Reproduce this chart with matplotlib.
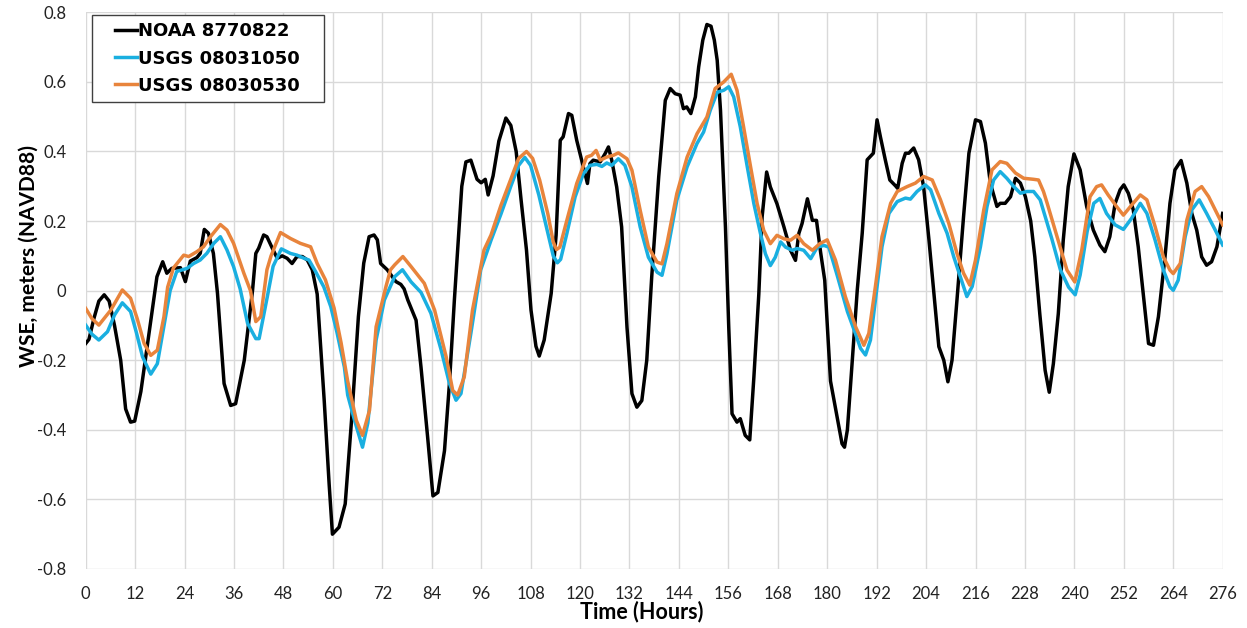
import matplotlib
matplotlib.use("Agg")
import matplotlib.pyplot as plt
from matplotlib.patches import Rectangle

plt.rcParams['font.family'] = ['Lato', 'DejaVu Sans']
plt.rcParams['axes.unicode_minus'] = False

# NOAA 8770822 water surface elevation (m, NAVD88)
noaa_hours = [0, 0.8, 2, 3.2, 4.5, 5.7, 7, 8.5, 9.7, 10.9, 11.9, 13.4, 15.4, 17.3, 18.7, 19.7, 20.9, 23, 24.2,
              25.4, 27, 27.8, 28.8, 29.8, 31, 32, 33.6, 35.2, 36.4, 38.5, 40.5, 41.3, 42, 43.2, 44, 45.3, 46.5,
              47.7, 48.9, 50.1, 51.3, 52.6, 53.8, 55, 56.2, 57.9, 59.1, 59.9, 61.5, 63, 64.6, 66.2, 67.5, 68.8,
              70, 70.8, 71.6, 73.2, 75.3, 76.5, 77.3, 78.2, 80.2, 81.4, 83, 84.3, 85.5, 87.1, 88.3, 89.5, 90.3,
              91.3, 92.3, 93.5, 95, 96, 97, 97.7, 98.9, 100.3, 102, 103.2, 104.5, 105.7, 107, 108.1, 109.3,
              110.1, 111.3, 113, 114.2, 115.2, 115.9, 117.2, 118, 119.2, 120.8, 121.8, 122.4, 123.2, 124.9,
              126.1, 126.9, 127.7, 128.9, 130.1, 131.4, 132.6, 133.8, 135, 136.2, 137.4, 139.1, 140.7, 141.9,
              143.1, 144.3, 145.1, 145.9, 146.9, 148, 148.8, 149.8, 150.8, 151.8, 152.6, 153.3, 154.1, 155.3,
              156.1, 156.9, 158.1, 158.9, 160.1, 161.2, 162.2, 163.4, 164.2, 165.3, 166.2, 167.8, 169.5,
              171.1, 172.3, 173.1, 173.9, 175.2, 176.4, 177.4, 178.4, 179.4, 180.8, 182.4, 183.6, 184.2,
              184.9, 186.1, 187.3, 188.5, 189.7, 191.2, 192.1, 192.9, 194.1, 195.2, 196.6, 197.1, 198.2, 199,
              199.8, 201, 202.2, 203.4, 204.7, 205.9, 207.1, 208.3, 209.3, 210.3, 211.5, 213.1, 214.4, 216,
              217.2, 218.4, 219.6, 221.2, 222, 223.2, 224.5, 225.7, 226.9, 228.1, 229.4, 230.4, 231.6, 232.9,
              233.9, 234.9, 236.1, 237.3, 238.5, 239.9, 241.4, 243, 244.6, 246.2, 247.4, 248.6, 249.9, 251.1,
              252, 253.1, 254.3, 255.5, 256.7, 258, 259.2, 260.4, 262, 263.2, 264.4, 265.9, 267.3, 268.5,
              269.7, 270.9, 272.1, 273.3, 274.6, 276]
noaa_wse = [-0.152, -0.14, -0.08, -0.03, -0.012, -0.03, -0.1, -0.2, -0.34, -0.378, -0.375, -0.29, -0.12, 0.04,
            0.083, 0.05, 0.064, 0.066, 0.026, 0.085, 0.095, 0.107, 0.176, 0.165, 0.107, -0.008, -0.267, -0.33,
            -0.325, -0.2, 0.0, 0.107, 0.122, 0.16, 0.155, 0.122, 0.093, 0.1, 0.093, 0.078, 0.098, 0.098, 0.088,
            0.06, -0.01, -0.315, -0.556, -0.7, -0.68, -0.613, -0.363, -0.075, 0.079, 0.155, 0.16, 0.146, 0.078,
            0.06, 0.026, 0.018, 0.005, -0.027, -0.085, -0.22, -0.42, -0.59, -0.58, -0.46, -0.267, -0.027, 0.117,
            0.3, 0.37, 0.375, 0.32, 0.31, 0.32, 0.275, 0.33, 0.43, 0.496, 0.475, 0.4, 0.26, 0.117, -0.056, -0.16,
            -0.188, -0.142, -0.008, 0.16, 0.432, 0.442, 0.509, 0.504, 0.432, 0.355, 0.308, 0.365, 0.375, 0.37,
            0.394, 0.413, 0.375, 0.298, 0.183, -0.105, -0.296, -0.335, -0.316, -0.2, 0.039, 0.327, 0.547, 0.581,
            0.566, 0.562, 0.523, 0.528, 0.509, 0.557, 0.643, 0.72, 0.765, 0.76, 0.72, 0.662, 0.518, 0.183,
            -0.105, -0.354, -0.378, -0.368, -0.416, -0.429, -0.249, -0.01, 0.212, 0.341, 0.298, 0.25, 0.183,
            0.116, 0.087, 0.164, 0.193, 0.264, 0.202, 0.202, 0.11, 0.03, -0.26, -0.363, -0.44, -0.45, -0.4,
            -0.2, 0.002, 0.165, 0.376, 0.395, 0.491, 0.443, 0.376, 0.318, 0.301, 0.294, 0.366, 0.395, 0.395,
            0.41, 0.376, 0.299, 0.146, -0.008, -0.161, -0.2, -0.262, -0.2, -0.027, 0.213, 0.395, 0.491, 0.486,
            0.424, 0.309, 0.242, 0.251, 0.251, 0.27, 0.323, 0.309, 0.27, 0.2, 0.097, -0.066, -0.229, -0.292,
            -0.21, -0.066, 0.145, 0.299, 0.393, 0.347, 0.241, 0.174, 0.131, 0.112, 0.155, 0.251, 0.29, 0.304,
            0.28, 0.232, 0.126, -0.008, -0.152, -0.157, -0.075, 0.097, 0.251, 0.347, 0.374, 0.309, 0.222,
            0.174, 0.097, 0.073, 0.083, 0.126, 0.222]

# USGS 08031050
usgs1_hours = [0, 1.5, 3.2, 5.3, 7, 8.9, 10.9, 12.3, 13.8, 15.8, 17.4, 19.4, 20.5, 22.1, 24.6, 26.2, 27.8, 29.4,
               31.1, 32.7, 34.3, 35.9, 37.5, 39.3, 41.3, 42.1, 44.1, 45.5, 47.5, 49.7, 51.3, 53, 54.2, 55.8,
               57.8, 59.5, 61, 62.8, 63.6, 65.2, 67.2, 68.5, 70.5, 72.5, 75, 76.9, 79, 81.4, 83.8, 86.3, 88.3,
               89.9, 91.1, 93.5, 95.9, 98.4, 100.8, 103.2, 105.1, 106.6, 108, 110, 112, 113.5, 114.5, 115.3,
               116.8, 118.8, 120.8, 122.4, 124.1, 125.3, 126.5, 127.7, 129.3, 130.9, 132.6, 134.6, 136.6, 138.7,
               139.9, 141.1, 143.5, 146, 148.4, 150, 151.6, 153.3, 154.9, 156.1, 157.3, 158.9, 160.6, 162.2,
               163.8, 165, 166.2, 167.4, 168.7, 169.9, 171.5, 172.7, 174.3, 176, 177.6, 179.2, 180.4, 182.4,
               184.9, 186.9, 188.1, 189.3, 190.5, 192.1, 193.3, 195, 197, 199, 200.2, 201.8, 203.8, 205.1,
               207.1, 209.1, 210.7, 212.3, 213.9, 215.2, 217.2, 218.8, 220.4, 222, 223.6, 225.3, 226.9, 228.5,
               230.1, 231.7, 234.5, 236.6, 238.6, 240.2, 241.4, 243.1, 244.7, 246.2, 247.8, 249.9, 251.9,
               253.9, 256, 257.6, 259.6, 261.6, 263.2, 264, 265.2, 266.9, 268.5, 270.3, 272.1, 274.2, 276]
usgs1_wse = [-0.099, -0.125, -0.142, -0.118, -0.07, -0.035, -0.06, -0.12, -0.19, -0.24, -0.21, -0.075, 0.0,
             0.055, 0.064, 0.078, 0.088, 0.107, 0.136, 0.155, 0.117, 0.069, 0.005, -0.094, -0.138, -0.138,
             -0.017, 0.07, 0.12, 0.107, 0.102, 0.093, 0.088, 0.055, 0.011, -0.046, -0.12, -0.22, -0.3, -0.37,
             -0.45, -0.38, -0.142, -0.027, 0.04, 0.06, 0.025, -0.005, -0.065, -0.171, -0.267, -0.315, -0.296,
             -0.123, 0.06, 0.145, 0.22, 0.3, 0.36, 0.383, 0.36, 0.275, 0.175, 0.1, 0.08, 0.09, 0.164, 0.269,
             0.336, 0.36, 0.363, 0.357, 0.367, 0.36, 0.379, 0.36, 0.298, 0.183, 0.096, 0.053, 0.044, 0.106,
             0.26, 0.356, 0.423, 0.456, 0.518, 0.57, 0.576, 0.586, 0.557, 0.471, 0.356, 0.25, 0.164, 0.106,
             0.072, 0.096, 0.14, 0.125, 0.116, 0.121, 0.116, 0.092, 0.125, 0.13, 0.125, 0.045, -0.06, -0.125,
             -0.166, -0.185, -0.142, 0.012, 0.126, 0.222, 0.256, 0.266, 0.263, 0.285, 0.304, 0.29, 0.222,
             0.165, 0.098, 0.04, -0.017, 0.012, 0.126, 0.242, 0.318, 0.342, 0.323, 0.299, 0.28, 0.285, 0.285,
             0.261, 0.15, 0.06, 0.01, -0.012, 0.045, 0.17, 0.251, 0.265, 0.222, 0.189, 0.176, 0.208, 0.251,
             0.222, 0.145, 0.059, 0.011, 0.001, 0.03, 0.155, 0.232, 0.261, 0.222, 0.174, 0.131]

# USGS 08030530
usgs2_hours = [0, 1.5, 3.2, 6.1, 8.9, 10.9, 12.5, 14.2, 15.8, 17.4, 19, 19.9, 21.3, 23.8, 25, 27, 28.6, 30.3,
               32.7, 34.3, 35.9, 38.4, 40, 41.3, 42.5, 44, 45, 47.3, 49.7, 52.1, 54.6, 56.2, 58.2, 60.3, 62,
               63.6, 65.7, 67.2, 68.9, 70.5, 72.9, 74, 75, 77, 79, 82.2, 84.7, 87.5, 89.1, 90.3, 91.9, 93.9,
               96.7, 98.4, 100.8, 103.2, 105.1, 107, 108.5, 110.2, 112.2, 113.5, 114.3, 115.1, 116.8, 119.2,
               121.6, 122.8, 123.9, 124.9, 126.5, 128.1, 129.3, 131.4, 132.6, 134.6, 136.6, 138.7, 139.9, 141.1,
               143.5, 146, 148.4, 150.8, 152.8, 154.9, 156.7, 158.1, 159.7, 161.4, 163, 164.6, 166.2, 167.8,
               169.5, 171.1, 172.7, 174.3, 176.4, 178.2, 180, 182, 184.4, 186.9, 188.9, 190.1, 191.7, 193.3,
               195.4, 197, 199.4, 201.4, 203.4, 205.5, 207.5, 209.5, 211.5, 213.1, 214.6, 216, 218, 220, 222,
               223.6, 225.7, 227.7, 230.1, 231.3, 232.5, 233.4, 235.8, 238.2, 240.1, 241.8, 243.8, 245.4,
               246.6, 248.2, 250.3, 251.9, 253.9, 256, 257.6, 259.6, 261.6, 263.2, 264, 265.7, 267.3, 269.3,
               270.9, 272.6, 274.2, 276]
usgs2_wse = [-0.051, -0.08, -0.099, -0.056, 0.002, -0.022, -0.08, -0.152, -0.186, -0.171, -0.075, 0.01, 0.065,
             0.102, 0.098, 0.112, 0.126, 0.155, 0.19, 0.174, 0.136, 0.05, 0.0, -0.089, -0.075, 0.06, 0.1, 0.167,
             0.15, 0.136, 0.126, 0.078, 0.031, -0.05, -0.15, -0.26, -0.373, -0.416, -0.344, -0.104, 0.012,
             0.06, 0.074, 0.098, 0.069, 0.021, -0.056, -0.19, -0.287, -0.3, -0.248, -0.056, 0.117, 0.16, 0.245,
             0.32, 0.38, 0.4, 0.38, 0.318, 0.22, 0.14, 0.118, 0.125, 0.202, 0.308, 0.384, 0.389, 0.403, 0.375,
             0.384, 0.389, 0.396, 0.379, 0.346, 0.231, 0.125, 0.082, 0.077, 0.135, 0.279, 0.384, 0.451, 0.499,
             0.581, 0.6, 0.622, 0.576, 0.471, 0.356, 0.25, 0.173, 0.135, 0.159, 0.149, 0.145, 0.159, 0.135,
             0.116, 0.135, 0.146, 0.088, -0.017, -0.104, -0.157, -0.123, 0.012, 0.155, 0.251, 0.285, 0.299,
             0.309, 0.328, 0.318, 0.261, 0.194, 0.107, 0.05, 0.016, 0.088, 0.232, 0.347, 0.371, 0.366, 0.338,
             0.323, 0.32, 0.318, 0.285, 0.251, 0.155, 0.059, 0.025, 0.117, 0.27, 0.299, 0.304, 0.275, 0.241,
             0.217, 0.246, 0.275, 0.261, 0.184, 0.097, 0.059, 0.049, 0.078, 0.203, 0.285, 0.299, 0.27, 0.232,
             0.189]

x_ticks = list(range(0, 277, 12))
y_ticks = [-0.8, -0.6, -0.4, -0.2, 0, 0.2, 0.4, 0.6, 0.8]
y_tick_labels = ['-0.8', '-0.6', '-0.4', '-0.2', '0', '0.2', '0.4', '0.6', '0.8']

fig = plt.figure(figsize=(12.47, 6.28), dpi=100)
ax = fig.add_axes([0.0687, 0.094, 0.9118, 0.8864])

ax.plot(noaa_hours, noaa_wse, color='black', lw=2.5, label='NOAA 8770822', zorder=3)
ax.plot(usgs1_hours, usgs1_wse, color='#1AAFE0', lw=2.5, label='USGS 08031050', zorder=4)
ax.plot(usgs2_hours, usgs2_wse, color='#E8843C', lw=2.5, label='USGS 08030530', zorder=5)

ax.set_xlim(0, 276)
ax.set_ylim(-0.8, 0.8)
ax.set_xticks(x_ticks)
ax.set_yticks(y_ticks)
ax.set_yticklabels(y_tick_labels)
ax.grid(True, color='#d9d9d9', lw=1)
ax.set_axisbelow(True)
for s in ax.spines.values():
    s.set_visible(False)
ax.tick_params(axis='both', length=0, labelsize=12, colors='#222222')
ax.tick_params(axis='y', pad=14)
ax.tick_params(axis='x', pad=12)

ax.set_xlabel('Time (Hours)', fontsize=15.5, fontweight='bold')
ax.xaxis.set_label_coords(0.489, -0.0575)
ax.set_ylabel('WSE, meters (NAVD88)', fontsize=15, fontweight='bold', va='center')
ax.yaxis.set_label_coords(-0.05, 0.562)

# legend box with wide side margins
ax.add_patch(Rectangle((0.0058, 0.8384), 0.2038, 0.1562, transform=ax.transAxes,
                       facecolor='white', edgecolor='#404040', lw=1.0, zorder=9))
leg = ax.legend(loc='upper left', bbox_to_anchor=(0.0258, 0.982), borderaxespad=0, borderpad=0,
                prop={'family': 'DejaVu Sans', 'size': 13, 'weight': 'bold'}, frameon=False,
                handlelength=1.22, handletextpad=0.05, labelspacing=0.51)
leg.set_zorder(10)
for line in leg.get_lines():
    line.set_linewidth(2.5)

fig.savefig('out.png', dpi=100)
